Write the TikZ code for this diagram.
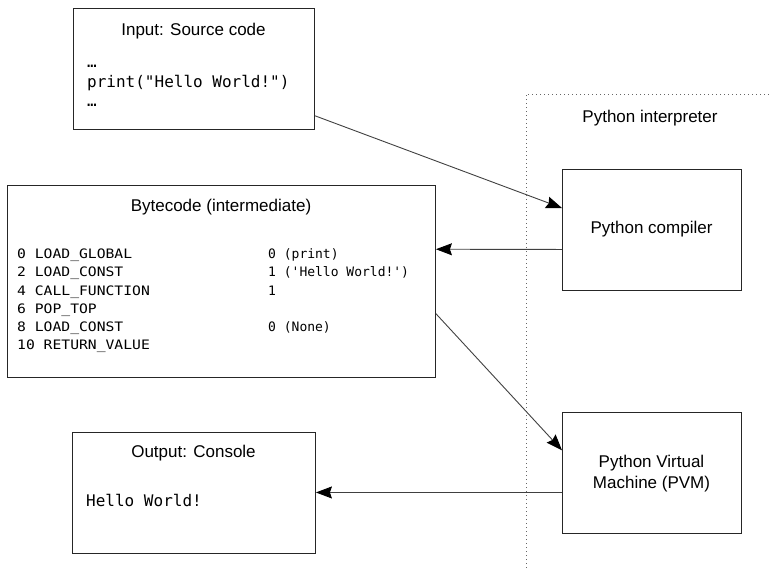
\documentclass[tikz,border=0pt]{standalone}
\usepackage{fontspec}
\setmainfont{Liberation Sans}
\newfontfamily\codefont{DejaVu Sans Mono}
\newfontfamily\codewide{DejaVu Sans Mono}[FakeStretch=1.13]
\usetikzlibrary{arrows.meta,calc}
\begin{document}
\begin{tikzpicture}[x=1pt,y=-1pt,
  box/.style={draw=black!85,line width=0.9pt,inner sep=0pt,anchor=north west},
  ttl/.style={font=\fontsize{17}{20}\selectfont,anchor=base,inner sep=0pt},
  code/.style={font=\codefont\fontsize{16}{19}\selectfont,anchor=base west,inner sep=0pt},
  bcode/.style={font=\codefont\fontsize{13}{16}\selectfont,anchor=base west,inner sep=0pt},
  bcodew/.style={font=\codewide\fontsize{13}{16}\selectfont,anchor=base west,inner sep=0pt},
  conn/.style={draw=black!75,line width=0.9pt,-{Stealth[length=16pt,width=12pt,inset=2pt,color=black]}},
  ]
\useasboundingbox (0,0) rectangle (770,568);
% interpreter region
\draw[black!60,line width=0.7pt,dash pattern=on 1pt off 3pt] (526,568) -- (526,94) -- (770,94);
\node[ttl] (interp) at (650,122.5) {Python interpreter};
% boxes
\node[box,minimum width=241pt,minimum height=121pt] (inp) at (73,8) {};
\node[box,minimum width=428pt,minimum height=192pt] (bc) at (7,185) {};
\node[box,minimum width=243pt,minimum height=121pt] (out) at (72,432) {};
\node[box,minimum width=179pt,minimum height=121pt] (comp) at (562,169) {};
\node[box,minimum width=179pt,minimum height=121pt] (pvm) at (562,412) {};
% input text
\node[ttl] (inpt) at (193.5,35.5) {Input: Source code};
\node[code] (in1) at (87,67) {…};
\node[code] (in2) at (87,87) {print("Hello World!")};
\node[code] (in3) at (87,106) {…};
% bytecode text
\node[ttl] (bct) at (221,211) {Bytecode (intermediate)};
\node[bcodew] (b1) at (17,258.7) {0 LOAD\_GLOBAL};
\node[bcodew] (b2) at (17,276.9) {2 LOAD\_CONST};
\node[bcodew] (b3) at (17,295.1) {4 CALL\_FUNCTION};
\node[bcodew] (b4) at (17,313.3) {6 POP\_TOP};
\node[bcodew] (b5) at (17,331.5) {8 LOAD\_CONST};
\node[bcodew] (b6) at (17,349.7) {10 RETURN\_VALUE};
\node[bcode] (c1) at (268,258.7) {0 (print)};
\node[bcode] (c2) at (268,276.9) {1 ('Hello World!')};
\node[bcode] (c3) at (268,295.1) {1};
\node[bcode] (c5) at (268,331.5) {0 (None)};
% output text
\node[ttl] (outt) at (193.5,457.3) {Output: Console};
\node[code] (o1) at (86,506.5) {Hello World!};
% compiler / pvm text
\node[ttl] (compt) at (651.5,233.3) {Python compiler};
\node[ttl] (pvm1) at (651.5,467.3) {Python Virtual};
\node[ttl] (pvm2) at (651.5,488.3) {Machine (PVM)};
% connectors
\draw[conn] ($(inp.north east)!0.884!(inp.south east)$) -- ($(comp.north west)!0.32!(comp.south west)$);
\draw[conn] ($(comp.north west)!0.66!(comp.south west)$) -- ($(bc.north east)!0.333!(bc.south east)$);
\draw[conn] ($(bc.north east)!0.667!(bc.south east)$) -- ($(pvm.north west)!0.314!(pvm.south west)$);
\draw[conn] ($(pvm.north west)!0.66!(pvm.south west)$) -- ($(out.north east)!0.496!(out.south east)$);
\end{tikzpicture}
\end{document}
